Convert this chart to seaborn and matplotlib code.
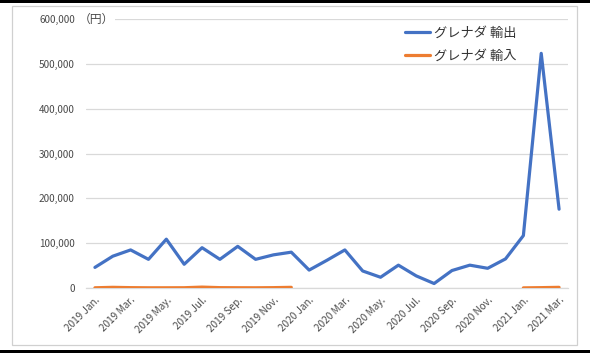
import numpy as np
import pandas as pd
import matplotlib
matplotlib.use("Agg")
import matplotlib.pyplot as plt
import seaborn as sns
from matplotlib.patches import Rectangle
from matplotlib.lines import Line2D

months = ["2019 Jan.", "2019 Feb.", "2019 Mar.", "2019 Apr.", "2019 May.", "2019 Jun.",
          "2019 Jul.", "2019 Aug.", "2019 Sep.", "2019 Oct.", "2019 Nov.", "2019 Dec.",
          "2020 Jan.", "2020 Feb.", "2020 Mar.", "2020 Apr.", "2020 May.", "2020 Jun.",
          "2020 Jul.", "2020 Aug.", "2020 Sep.", "2020 Oct.", "2020 Nov.", "2020 Dec.",
          "2021 Jan.", "2021 Feb.", "2021 Mar."]
exports = [46000, 71000, 85000, 64000, 109000, 53000, 90000, 64000, 93000, 64000, 74000, 80000,
           40000, 62000, 85000, 38000, 24000, 51000, 27000, 10000, 39000, 51000, 44000, 65000,
           117000, 524000, 176000]
imports = [500, 1500, 800, 500, 500, 600, 2000, 800, 600, 500, 800, 1500,
           np.nan, np.nan, np.nan, np.nan, np.nan, np.nan, np.nan, np.nan, np.nan, np.nan, np.nan, np.nan,
           300, 800, 1500]
series_names = ["グレナダ 輸出", "グレナダ 輸入"]
colors = ["#4472C4", "#ED7D31"]

rows = []
for i, v in enumerate(exports):
    rows.append((i, v, series_names[0], "e"))
seg = 0
prev_nan = True
for i, v in enumerate(imports):
    if np.isnan(v):
        prev_nan = True
        continue
    if prev_nan:
        seg += 1
        prev_nan = False
    rows.append((i, v, series_names[1], f"i{seg}"))
df = pd.DataFrame(rows, columns=["x", "value", "series", "segment"])

sns.set_theme(style="white")
plt.rcParams['font.family'] = ['Noto Sans CJK JP', 'DejaVu Sans']

W, H = 590, 353
fig = plt.figure(figsize=(W / 100, H / 100), dpi=100)
ax = fig.add_axes([86 / W, 1 - 288 / H, (568 - 86) / W, (288 - 19.3) / H])

sns.lineplot(data=df, x="x", y="value", hue="series", units="segment", estimator=None,
             palette=dict(zip(series_names, colors)), hue_order=series_names,
             linewidth=2.3, ax=ax, legend=False, zorder=3)

tick_color = "#4a4a4a"
ax.set_xlim(-0.5, len(months) - 0.5)
ax.set_ylim(0, 600000)
yt = np.arange(0, 600001, 100000)
ax.set_yticks(yt)
ax.set_yticklabels([f"{int(v):,}" for v in yt], fontsize=7.2, color=tick_color)
ax.yaxis.grid(True, color="#d9d9d9", linewidth=0.9)
ax.xaxis.grid(False)
ax.set_xticks(range(0, len(months), 2))
ax.set_xticklabels(months[::2], rotation=45, ha="right", rotation_mode="anchor",
                   fontsize=7.2, color=tick_color)
ax.set_xticks(np.arange(-0.5, len(months)), minor=True)
ax.tick_params(axis="x", which="major", length=0, pad=5)
ax.tick_params(axis="x", which="minor", length=4, color="#d9d9d9", width=0.9)
ax.tick_params(axis="y", length=0, pad=8)
ax.set_xlabel("")
ax.set_ylabel("")
for s in ["top", "right", "left"]:
    ax.spines[s].set_visible(False)
ax.spines["bottom"].set_color("#d9d9d9")
ax.spines["bottom"].set_linewidth(0.9)

fig.text(79 / W, 1 - 19 / H, "（円）", fontsize=8.5, color=tick_color, ha="left", va="center",
         zorder=5, bbox=dict(facecolor="white", edgecolor="none", pad=0.5))

handles = [Line2D([0], [0], color=c, lw=2.3) for c in colors]
leg = ax.legend(handles, series_names, loc="upper left", bbox_to_anchor=(393 / W, 1 - 15 / H),
                bbox_transform=fig.transFigure, frameon=False, fontsize=9.5,
                handlelength=1.9, handletextpad=0.3, labelspacing=0.75, labelcolor="#333333")

# outer frames
fig.patches.append(Rectangle((12 / W, 1 - 345 / H), (577 - 12) / W, (345 - 6) / H,
                             transform=fig.transFigure, fill=False, edgecolor="#d0d0d0", lw=0.9))
fig.patches.append(Rectangle((0, 1 - 3 / H), 1, 3 / H, transform=fig.transFigure,
                             facecolor="black", edgecolor="none"))
fig.patches.append(Rectangle((0, 0), 1, 3 / H, transform=fig.transFigure,
                             facecolor="black", edgecolor="none"))

fig.savefig("out.png", dpi=100)
